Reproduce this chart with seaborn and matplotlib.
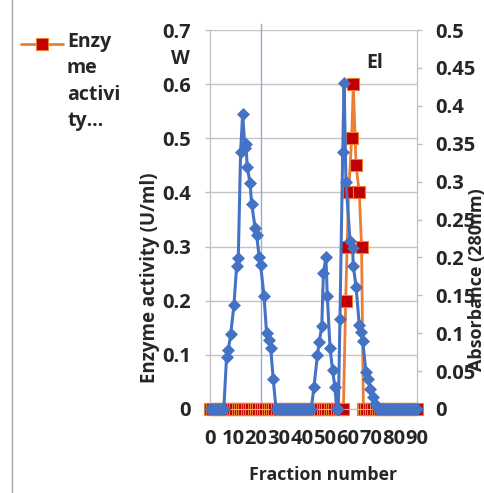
import matplotlib
matplotlib.use("Agg")
import matplotlib.pyplot as plt
import seaborn as sns
from matplotlib.lines import Line2D

# ---------------- data ----------------
# Enzyme activity (U/ml), left axis
enzyme_fraction = [0, 1, 2, 3, 4, 5, 6, 7, 8, 9, 10, 11, 12, 13, 14, 15, 16, 17, 18, 19,
                   20, 21, 22, 23, 24, 25, 26, 27, 28, 29, 30, 31, 32, 33, 34, 35, 36, 37, 38, 39,
                   40, 41, 42, 43, 44, 45, 46, 47, 48, 49, 50, 51, 52, 53, 54, 55, 56, 57, 58,
                   59.0, 59.6, 60.3, 61.6, 62.3, 63.5, 64.9, 65.9, 66.7,
                   67, 68, 69, 70, 71, 72, 73, 74, 75, 76, 77, 78, 79, 80, 81, 82, 83, 84, 85,
                   86, 87, 88, 89, 90]
enzyme_activity = [0, 0, 0, 0, 0, 0, 0, 0, 0, 0, 0, 0, 0, 0, 0, 0, 0, 0, 0, 0,
                   0, 0, 0, 0, 0, 0, 0, 0, 0, 0, 0, 0, 0, 0, 0, 0, 0, 0, 0, 0,
                   0, 0, 0, 0, 0, 0, 0, 0, 0, 0, 0, 0, 0, 0, 0, 0, 0, 0, 0,
                   0.2, 0.3, 0.4, 0.5, 0.6, 0.45, 0.4, 0.3, 0,
                   0, 0, 0, 0, 0, 0, 0, 0, 0, 0, 0, 0, 0, 0, 0, 0, 0, 0, 0,
                   0, 0, 0, 0, 0]

# Absorbance (280nm), right axis
abs_fraction = [0, 1, 2, 3, 4, 5, 6,
                7.2, 8.0, 9.0, 10.4, 11.6, 12.3, 13.3, 14.2, 15.2, 15.6, 16.2, 17.4, 18.1,
                19.6, 20.3, 21.4, 22.0, 23.5, 24.6, 25.6, 26.4, 27.5, 28.7,
                30, 31, 32, 33, 34, 35, 36, 37, 38, 39, 40, 41, 42, 43, 44,
                45.2, 46.7, 47.5, 48.6, 49.3, 50.4, 51.0, 52.2, 53.3, 54.3, 55.1,
                55.8, 56.5, 57.7, 58.3, 59.1, 60.9, 62.0, 62.3, 63.5, 64.9, 65.5, 66.4,
                67.8, 68.8, 69.6, 70.7, 71.7,
                73, 74, 75, 76, 77, 78, 79, 80, 81, 82, 83, 84, 85, 86, 87, 88, 89, 90]
absorbance = [0, 0, 0, 0, 0, 0, 0,
              0.069, 0.078, 0.099, 0.137, 0.189, 0.199, 0.339, 0.389, 0.344, 0.349, 0.319, 0.298, 0.271,
              0.239, 0.229, 0.200, 0.190, 0.149, 0.100, 0.091, 0.080, 0.039, 0,
              0, 0, 0, 0, 0, 0, 0, 0, 0, 0, 0, 0, 0, 0, 0,
              0.029, 0.071, 0.089, 0.109, 0.179, 0.200, 0.149, 0.080, 0.051, 0.029, 0,
              0, 0.119, 0.339, 0.430, 0.300, 0.221, 0.212, 0.189, 0.161, 0.111, 0.102, 0.090,
              0.049, 0.039, 0.027, 0.016, 0.007,
              0, 0, 0, 0, 0, 0, 0, 0, 0, 0, 0, 0, 0, 0, 0, 0, 0, 0]

x_ticks = [0, 10, 20, 30, 40, 50, 60, 70, 80, 90]
x_ticklabels = ["0", "10", "20", "30", "40", "50", "60", "70", "80", "90"]
left_ticks = [0, 0.1, 0.2, 0.3, 0.4, 0.5, 0.6, 0.7]
left_ticklabels = ["0", "0.1", "0.2", "0.3", "0.4", "0.5", "0.6", "0.7"]
right_ticks = [0, 0.05, 0.1, 0.15, 0.2, 0.25, 0.3, 0.35, 0.4, 0.45, 0.5]
right_ticklabels = ["0", "0.05", "0.1", "0.15", "0.2", "0.25", "0.3", "0.35", "0.4", "0.45", "0.5"]
marker_line_x = 22.2

# ---------------- style ----------------
sns.set_style("white")
plt.rcParams["font.family"] = ["Open Sans", "DejaVu Sans"]
plt.rcParams["font.weight"] = "bold"

ORANGE = "#ED7D31"
DARKRED = "#C00000"
BLUE = "#4472C4"
GRID = "#C4C4C4"
SPINE = "#BFBFBF"
FS = 14.5

W, H = 485, 493
fig = plt.figure(figsize=(W / 100, H / 100), dpi=100)
ax = fig.add_axes([210 / W, (H - 409) / H, 207 / W, 379 / H])
ax2 = ax.twinx()

ax.axvline(marker_line_x, ymin=0, ymax=1.015, color="#8FAADC", lw=1.0, zorder=1, clip_on=False)

sns.lineplot(x=enzyme_fraction, y=enzyme_activity, ax=ax, sort=False, estimator=None,
             color=ORANGE, lw=2.0, marker="s", markersize=8.5, markerfacecolor=DARKRED,
             markeredgecolor=ORANGE, markeredgewidth=0.8, clip_on=False, zorder=3)
sns.lineplot(x=abs_fraction, y=absorbance, ax=ax2, sort=False, estimator=None,
             color=BLUE, lw=2.2, marker="D", markersize=6, markerfacecolor=BLUE,
             markeredgecolor=BLUE, markeredgewidth=0.5, clip_on=False, zorder=3)

ax.set_xlim(0, 90)
ax.set_ylim(0, 0.7)
ax2.set_ylim(0, 0.5)
ax.set_xticks(x_ticks)
ax.set_xticklabels(x_ticklabels)
ax.set_yticks(left_ticks)
ax.set_yticklabels(left_ticklabels)
ax2.set_yticks(right_ticks)
ax2.set_yticklabels(right_ticklabels)

ax.yaxis.grid(True, color=GRID, lw=1)
ax.xaxis.grid(False)
ax2.grid(False)
ax.set_axisbelow(True)

for a in (ax, ax2):
    a.spines["top"].set_visible(False)
    a.spines["left"].set_color(SPINE)
    a.spines["right"].set_color(SPINE)
    a.spines["bottom"].set_color(SPINE)

ax.tick_params(axis="y", left=True, direction="out", length=3.4, width=1, color=SPINE,
               pad=10.5, labelsize=FS)
ax.tick_params(axis="x", bottom=True, direction="out", length=3.4, width=1, color=SPINE,
               pad=11, labelsize=FS)
ax2.tick_params(axis="y", right=True, direction="out", length=3.4, width=1, color=SPINE,
                pad=10, labelsize=FS)
for lab in ax.get_xticklabels() + ax.get_yticklabels() + ax2.get_yticklabels():
    lab.set_fontweight("bold")

ax.set_xlabel("Fraction number", fontsize=12.8, fontweight="bold")
ax.xaxis.set_label_coords((323 - 210) / 207, -0.15)
ax.set_ylabel("Enzyme activity (U/ml)", fontsize=13.5, fontweight="bold")
ax.yaxis.set_label_coords((160 - 210) / 207, (409 - 278) / 379)
ax2.set_ylabel("Absorbance (280nm)", fontsize=13, fontweight="bold", rotation=90)
ax2.yaxis.set_label_coords((468 - 210) / 207, (409 - 280) / 379)

# annotations
fig.text(180 / W, 1 - 58.5 / H, "W", fontsize=14, fontweight="bold", ha="center", va="center")
fig.text(375 / W, 1 - 62.5 / H, "El", fontsize=14, fontweight="bold", ha="center", va="center")

# legend (handle + wrapped label)
fig.add_artist(Line2D([21 / W, 63 / W], [1 - 44 / H, 1 - 44 / H], color=ORANGE, lw=2.0))
fig.add_artist(Line2D([42 / W], [1 - 44 / H], color=ORANGE, marker="s", markersize=8.5,
                      markerfacecolor=DARKRED, markeredgecolor=ORANGE, markeredgewidth=0.8))
fig.text(67 / W, 1 - 32 / H, "Enzy\nme\nactivi\nty\u2026", fontsize=14, fontweight="bold",
         ha="left", va="top", linespacing=1.42)

# chart frame line at left
fig.add_artist(Line2D([12 / W, 12 / W], [0, 1], color="#A6A6A6", lw=1))

fig.savefig("out.png", dpi=100)
